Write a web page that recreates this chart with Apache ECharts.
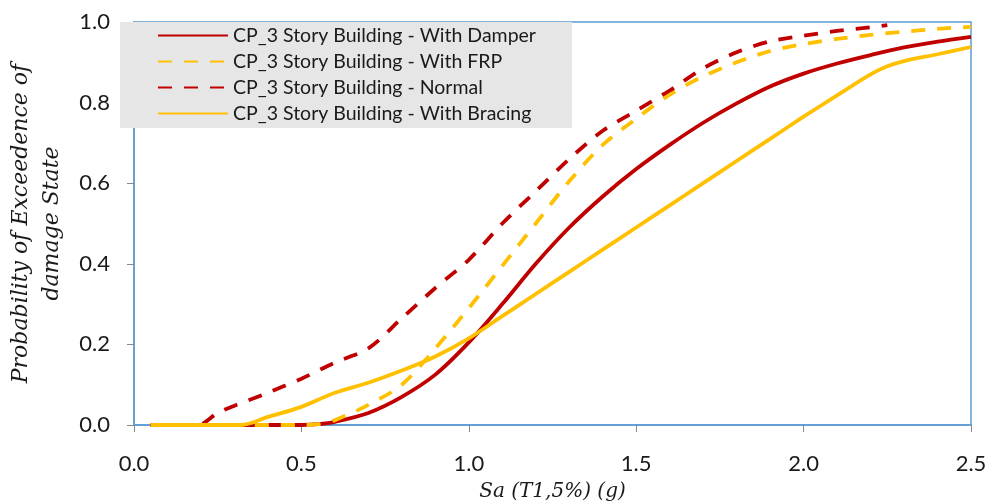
<!DOCTYPE html>
<html>
<head>
<meta charset="utf-8">
<style>
  html, body { margin: 0; padding: 0; background: #ffffff; }
  #chart { width: 991px; height: 501px; }
</style>
<script src="https://cdn.jsdelivr.net/npm/echarts@6/dist/echarts.min.js"></script>
</head>
<body>
<div id="chart"></div>
<script>
// Fragility curves: probability of exceeding the CP damage state vs spectral acceleration
const seriesNames = [
  'CP_3 Story Building - With Damper',
  'CP_3 Story Building - With FRP',
  'CP_3 Story Building - Normal',
  'CP_3 Story Building - With Bracing'
];

const xDamper = [0.05, 0.5, 0.55, 0.6, 0.7, 0.8, 0.9, 1.0, 1.1, 1.2, 1.3, 1.4, 1.5, 1.6, 1.7, 1.8, 1.9, 2.0, 2.1, 2.2, 2.3, 2.4, 2.5];
const yDamper = [0, 0, 0.002, 0.008, 0.03, 0.07, 0.125, 0.205, 0.30, 0.40, 0.49, 0.567, 0.635, 0.695, 0.75, 0.798, 0.84, 0.872, 0.897, 0.918, 0.937, 0.951, 0.963];

const xFRP = [0.05, 0.5, 0.55, 0.6, 0.7, 0.8, 0.9, 1.0, 1.1, 1.2, 1.3, 1.4, 1.5, 1.6, 1.7, 1.8, 1.9, 2.0, 2.1, 2.2, 2.3, 2.4, 2.5];
const yFRP = [0, 0, 0.002, 0.012, 0.05, 0.10, 0.19, 0.29, 0.395, 0.50, 0.605, 0.695, 0.76, 0.82, 0.865, 0.90, 0.928, 0.945, 0.958, 0.968, 0.976, 0.983, 0.988];

const xNormal = [0.05, 0.19, 0.25, 0.3, 0.4, 0.5, 0.6, 0.7, 0.8, 0.9, 1.0, 1.1, 1.2, 1.3, 1.4, 1.5, 1.6, 1.7, 1.8, 1.9, 2.0, 2.1, 2.2, 2.25];
const yNormal = [0, 0, 0.03, 0.048, 0.08, 0.115, 0.155, 0.19, 0.265, 0.34, 0.41, 0.50, 0.58, 0.66, 0.73, 0.78, 0.83, 0.885, 0.925, 0.952, 0.966, 0.978, 0.987, 0.992];

const xBracing = [0.05, 0.32, 0.4, 0.5, 0.6, 0.7, 0.8, 0.9, 1.0, 1.1, 1.2, 1.3, 1.4, 1.5, 1.6, 1.7, 1.8, 1.9, 2.0, 2.1, 2.2, 2.25, 2.3, 2.4, 2.5];
const yBracing = [0, 0, 0.02, 0.045, 0.08, 0.105, 0.135, 0.17, 0.215, 0.27, 0.325, 0.38, 0.435, 0.49, 0.545, 0.60, 0.655, 0.71, 0.765, 0.818, 0.87, 0.89, 0.903, 0.92, 0.938];

const xTicks = ['0.0', '0.5', '1.0', '1.5', '2.0', '2.5'];
const yTicks = ['0.0', '0.2', '0.4', '0.6', '0.8', '1.0'];

const RED = '#c00000';
const GOLD = '#ffc000';

function pairs(xs, ys) {
  return xs.map((x, i) => [x, ys[i]]);
}

function lineSeries(name, xs, ys, color, dashed) {
  return {
    name: name,
    type: 'line',
    data: pairs(xs, ys),
    showSymbol: false,
    symbol: 'none',
    smooth: 0.3,
    lineStyle: {
      color: color,
      width: 3.8,
      type: dashed ? [14, 12] : 'solid',
      cap: 'butt'
    },
    itemStyle: { color: color },
    emphasis: { disabled: true }
  };
}

const chart = echarts.init(document.getElementById('chart'), null, { renderer: 'canvas' });

chart.setOption({
  animation: false,
  backgroundColor: '#ffffff',
  grid: {
    left: 134,
    right: 20,
    top: 22,
    bottom: 76,
    outerBoundsMode: 'none',
    containLabel: false,
    show: true,
    borderColor: '#5b9bd5',
    borderWidth: 1.5,
    backgroundColor: 'transparent'
  },
  legend: {
    orient: 'vertical',
    left: 120,
    top: 22,
    padding: [2, 36, 3, 37],
    backgroundColor: '#e6e6e6',
    itemWidth: 70,
    itemHeight: 14,
    itemGap: 3,
    itemStyle: { opacity: 0 },
    textStyle: {
      fontFamily: 'Lato',
      fontSize: 19.5,
      lineHeight: 23,
      color: '#1a1a1a'
    },
    data: seriesNames
  },
  xAxis: {
    type: 'value',
    min: 0,
    max: 2.5,
    interval: 0.5,
    name: 'Sa (T1,5%) (g)',
    nameLocation: 'middle',
    nameGap: 57,
    nameTextStyle: {
      fontFamily: 'DejaVu Serif',
      fontStyle: 'italic',
      fontSize: 20,
      color: '#1a1a1a'
    },
    axisLine: { show: true, lineStyle: { color: '#5b9bd5', width: 1.5 } },
    axisTick: { show: true, length: 7, lineStyle: { color: '#888888', width: 1 } },
    axisLabel: {
      margin: 28,
      fontFamily: 'Lato',
      fontSize: 22,
      color: '#1a1a1a',
      formatter: function (v) { return xTicks[Math.round(v / 0.5)]; }
    },
    splitLine: { show: false }
  },
  yAxis: {
    type: 'value',
    min: 0,
    max: 1,
    interval: 0.2,
    name: 'Probability of Exceedence of\ndamage State',
    nameLocation: 'middle',
    nameGap: 66,
    nameRotate: 90,
    nameTextStyle: {
      fontFamily: 'DejaVu Serif',
      fontStyle: 'italic',
      fontSize: 22,
      lineHeight: 31,
      color: '#1a1a1a',
      align: 'center'
    },
    axisLine: { show: true, lineStyle: { color: '#5b9bd5', width: 1.5 } },
    axisTick: { show: true, length: 7, lineStyle: { color: '#888888', width: 1 } },
    axisLabel: {
      margin: 24,
      fontFamily: 'Lato',
      fontSize: 22,
      color: '#1a1a1a',
      formatter: function (v) { return yTicks[Math.round(v / 0.2)]; }
    },
    splitLine: { show: false }
  },
  series: [
    lineSeries(seriesNames[0], xDamper, yDamper, RED, false),
    lineSeries(seriesNames[1], xFRP, yFRP, GOLD, true),
    lineSeries(seriesNames[2], xNormal, yNormal, RED, true),
    lineSeries(seriesNames[3], xBracing, yBracing, GOLD, false)
  ]
});
</script>
</body>
</html>
